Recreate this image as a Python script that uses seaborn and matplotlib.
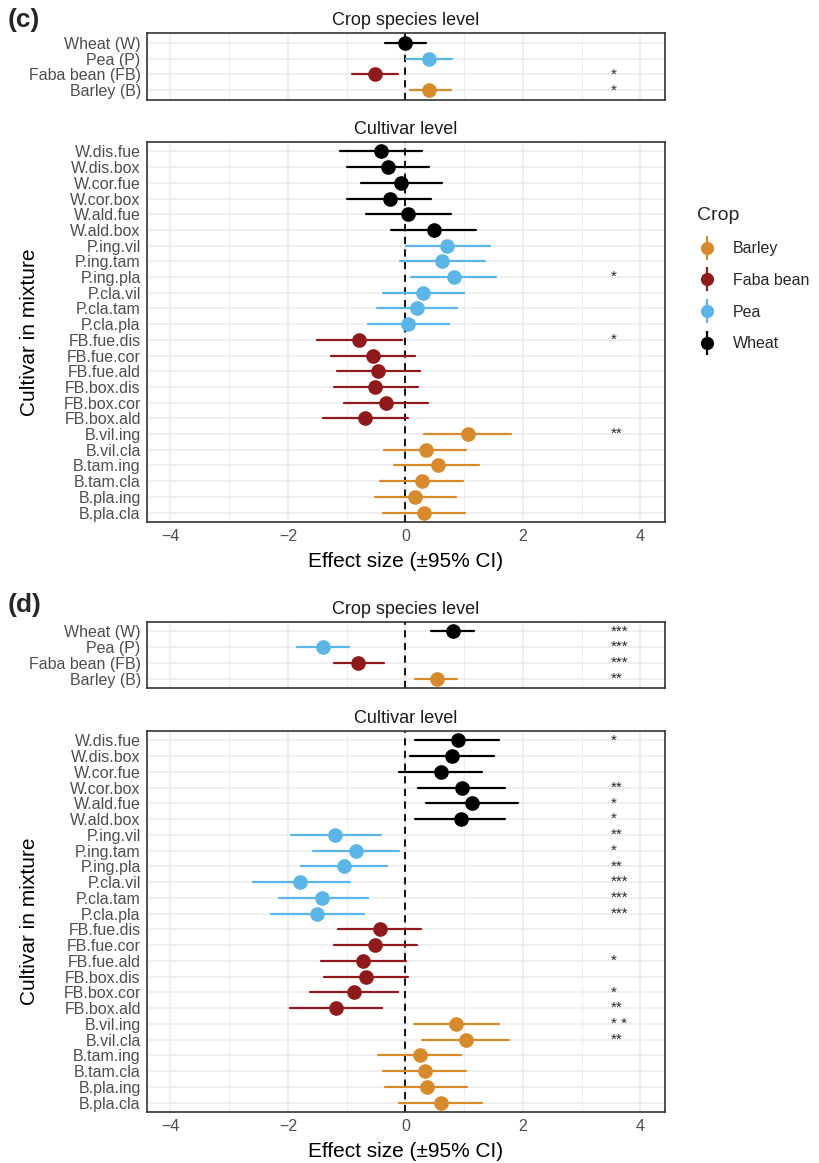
import numpy as np
import pandas as pd
import seaborn as sns
import matplotlib.pyplot as plt
from matplotlib.lines import Line2D

# Crop species level
crop_labels = ['Wheat (W)', 'Pea (P)', 'Faba bean (FB)', 'Barley (B)']
crop_groups = ['Wheat', 'Pea', 'Faba bean', 'Barley']

c_crop_est = [0.00, 0.41, -0.52, 0.41]
c_crop_lo = [-0.34, 0.01, -0.91, 0.07]
c_crop_hi = [0.35, 0.80, -0.12, 0.78]
c_crop_sig = ['', '', '*', '*']

d_crop_est = [0.81, -1.41, -0.80, 0.53]
d_crop_lo = [0.44, -1.84, -1.21, 0.17]
d_crop_hi = [1.17, -0.96, -0.36, 0.88]
d_crop_sig = ['***', '***', '***', '**']

# Cultivar level
cult_labels = ['W.dis.fue', 'W.dis.box', 'W.cor.fue', 'W.cor.box', 'W.ald.fue', 'W.ald.box',
               'P.ing.vil', 'P.ing.tam', 'P.ing.pla', 'P.cla.vil', 'P.cla.tam', 'P.cla.pla',
               'FB.fue.dis', 'FB.fue.cor', 'FB.fue.ald', 'FB.box.dis', 'FB.box.cor', 'FB.box.ald',
               'B.vil.ing', 'B.vil.cla', 'B.tam.ing', 'B.tam.cla', 'B.pla.ing', 'B.pla.cla']
cult_groups = ['Wheat'] * 6 + ['Pea'] * 6 + ['Faba bean'] * 6 + ['Barley'] * 6

c_cult_est = [-0.41, -0.29, -0.07, -0.27, 0.05, 0.48,
              0.71, 0.62, 0.82, 0.30, 0.19, 0.05,
              -0.79, -0.55, -0.46, -0.51, -0.33, -0.69,
              1.06, 0.35, 0.55, 0.29, 0.16, 0.31]
c_cult_lo = [-1.11, -0.99, -0.76, -0.99, -0.67, -0.25,
             0.01, -0.09, 0.10, -0.39, -0.49, -0.63,
             -1.51, -1.26, -1.17, -1.22, -1.04, -1.41,
             0.31, -0.36, -0.19, -0.43, -0.52, -0.39]
c_cult_hi = [0.28, 0.41, 0.62, 0.43, 0.78, 1.21,
             1.44, 1.35, 1.54, 0.99, 0.87, 0.75,
             -0.06, 0.17, 0.25, 0.21, 0.39, 0.05,
             1.80, 1.04, 1.25, 0.98, 0.86, 1.01]
c_cult_sig = ['', '', '', '', '', '',
              '', '', '*', '', '', '',
              '*', '', '', '', '', '',
              '**', '', '', '', '', '']

d_cult_est = [0.89, 0.79, 0.60, 0.96, 1.14, 0.94,
              -1.20, -0.84, -1.04, -1.79, -1.42, -1.51,
              -0.44, -0.52, -0.72, -0.67, -0.87, -1.19,
              0.86, 1.04, 0.24, 0.34, 0.36, 0.61]
d_cult_lo = [0.16, 0.07, -0.11, 0.21, 0.35, 0.17,
             -1.95, -1.57, -1.78, -2.59, -2.16, -2.29,
             -1.15, -1.22, -1.44, -1.39, -1.62, -1.96,
             0.14, 0.29, -0.46, -0.38, -0.34, -0.11]
d_cult_hi = [1.60, 1.51, 1.30, 1.69, 1.91, 1.69,
             -0.42, -0.11, -0.31, -0.95, -0.64, -0.71,
             0.26, 0.20, 0.01, 0.05, -0.12, -0.40,
             1.60, 1.77, 0.94, 1.03, 1.05, 1.30]
d_cult_sig = ['*', '', '', '**', '*', '*',
              '**', '*', '**', '***', '***', '***',
              '', '', '*', '', '*', '**',
              '* *', '**', '', '', '', '']

legend_order = ['Barley', 'Faba bean', 'Pea', 'Wheat']
palette = {'Barley': '#D68A2B', 'Faba bean': '#8E1A1B', 'Pea': '#5BB5E6', 'Wheat': '#000000'}

W, H = 819, 1163


def long_frame(labels, groups, est, lo, hi):
    # three rows per label, pointplot takes the median as the point and min/max as the interval
    rows = []
    for lab, grp, e, l, h in zip(labels, groups, est, lo, hi):
        for v in (l, e, h):
            rows.append({'label': lab, 'Crop': grp, 'value': v})
    return pd.DataFrame(rows)


def style_axis(ax, show_x):
    ax.set_xlim(-4.4, 4.42)
    ax.set_xticks([-4, -2, 0, 2, 4])
    ax.set_xticks([-3, -1, 1, 3], minor=True)
    ax.grid(True, which='major', axis='both', color='#EBEBEB', lw=1.1)
    ax.grid(True, which='minor', axis='x', color='#EBEBEB', lw=0.6)
    ax.set_axisbelow(True)
    for s in ax.spines.values():
        s.set_color('#333333')
        s.set_linewidth(1.2)
        s.set_visible(True)
    ax.tick_params(axis='y', length=3, width=0.9, color='#333333', labelsize=11.5,
                   labelcolor='#4D4D4D', pad=1.5)
    ax.tick_params(axis='x', which='both', length=0 if not show_x else 3, width=0.9,
                   color='#333333', labelsize=11.5, labelcolor='#4D4D4D', pad=2)
    ax.tick_params(axis='x', which='minor', length=0)
    if not show_x:
        ax.set_xticklabels([])


def forest(ax, labels, groups, est, lo, hi, sig, title, show_x):
    df = long_frame(labels, groups, est, lo, hi)
    ax.axvline(0, color='black', ls=(0, (4, 3)), lw=1.3, zorder=1.5)
    sns.pointplot(data=df, x='value', y='label', hue='Crop', order=labels,
                  hue_order=legend_order, palette=palette, estimator='median',
                  errorbar=lambda v: (v.min(), v.max()), linestyle='none', dodge=False,
                  markersize=8.5, err_kws={'linewidth': 1.6}, orient='h', ax=ax, legend=False)
    style_axis(ax, show_x)
    for i, s in enumerate(sig):
        if s:
            ax.text(3.5, i, s, ha='left', va='center', fontsize=11)
    ax.set_ylim(len(labels) - 0.4, -0.6)
    ax.set_title(title, fontsize=13, color='#1A1A1A', pad=6)
    ax.set_ylabel('')
    ax.set_xlabel('')


sns.set_theme(style='white')
plt.rcParams['font.family'] = ['Liberation Sans', 'DejaVu Sans']

fig = plt.figure(figsize=(W / 100, H / 100), dpi=100)

left = 147 / W
width = (665 - 147) / W


def add_axes(top, bottom):
    return fig.add_axes([left, 1 - bottom / H, width, (bottom - top) / H])


ax_c1 = add_axes(33, 100)
ax_c2 = add_axes(142, 522)
ax_d1 = add_axes(622, 688)
ax_d2 = add_axes(731, 1112)

forest(ax_c1, crop_labels, crop_groups, c_crop_est, c_crop_lo, c_crop_hi, c_crop_sig,
       'Crop species level', False)
forest(ax_c2, cult_labels, cult_groups, c_cult_est, c_cult_lo, c_cult_hi, c_cult_sig,
       'Cultivar level', True)
forest(ax_d1, crop_labels, crop_groups, d_crop_est, d_crop_lo, d_crop_hi, d_crop_sig,
       'Crop species level', False)
forest(ax_d2, cult_labels, cult_groups, d_cult_est, d_cult_lo, d_cult_hi, d_cult_sig,
       'Cultivar level', True)

for ax in (ax_c2, ax_d2):
    ax.set_xlabel('Effect size (±95% CI)', fontsize=15, color='black', labelpad=6)
    ax.set_ylabel('Cultivar in mixture', fontsize=15, color='black')
    ax.yaxis.set_label_coords((39 - 147) / (665 - 147), 0.5)

fig.text(8 / W, 1 - 20 / H, '(c)', fontsize=19, fontweight='bold', va='center', ha='left')
fig.text(8 / W, 1 - 605 / H, '(d)', fontsize=19, fontweight='bold', va='center', ha='left')

handles = []
for g in legend_order:
    bar = Line2D([], [], color=palette[g], marker='|', markersize=17, mew=1.6, linestyle='none')
    dot = Line2D([], [], color=palette[g], marker='o', markersize=8.5, linestyle='none')
    handles.append((bar, dot))
leg = fig.legend(handles, legend_order, title='Crop', loc='upper left',
                 bbox_to_anchor=(683 / W, 1 - 193 / H), frameon=False, fontsize=11.5,
                 title_fontsize=14, labelspacing=1.05, handlelength=1.2, handletextpad=1.0)
leg._legend_box.align = 'left'

fig.savefig('out.png', dpi=100)
